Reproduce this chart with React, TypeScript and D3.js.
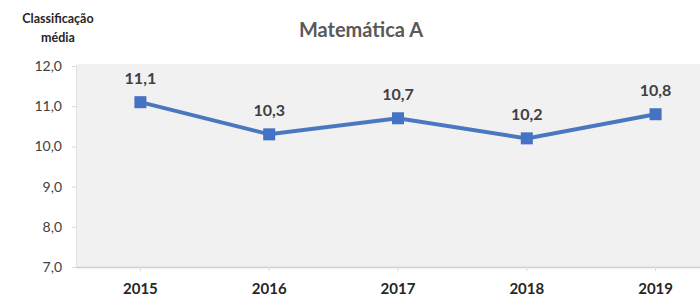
import React, { useEffect, useRef } from 'react';
import * as d3 from 'd3';

// chart data
const years = ['2015', '2016', '2017', '2018', '2019'];
const averages = [11.1, 10.3, 10.7, 10.2, 10.8];
const yTicks = [7, 8, 9, 10, 11, 12];

const W = 700, H = 300;
const FONT = 'Lato, "Open Sans", sans-serif';

const App = () => {
  const ref = useRef<SVGSVGElement>(null);

  useEffect(() => {
    const svg = d3.select(ref.current);
    svg.selectAll('*').remove();

    // plot area runs past the right edge (picture is cropped there)
    const x = d3.scaleBand().domain(years).range([76, 720]);
    const y = d3.scaleLinear().domain([7, 12]).range([267, 66]);
    const cx = (d: string) => (x(d) as number) + x.bandwidth() / 2;

    // grey plot background
    svg.append('rect')
      .attr('x', 76).attr('y', 64)
      .attr('width', 644).attr('height', 203)
      .attr('fill', '#f1f1f1');

    // left axis
    const yAxis = svg.append('g')
      .attr('transform', 'translate(76,0)')
      .call(d3.axisLeft(y).tickValues(yTicks).tickSize(4).tickPadding(10)
        .tickFormat(d => d3.format('.1f')(d as number).replace('.', ',')));
    yAxis.select('.domain').attr('stroke', '#e0e0e0');
    yAxis.selectAll('.tick line').attr('stroke', '#d9d9d9');
    yAxis.selectAll('text')
      .attr('font-family', FONT).attr('font-size', 14).attr('fill', '#404040');

    // bottom axis
    const xAxis = svg.append('g')
      .attr('transform', 'translate(0,267)')
      .call(d3.axisBottom(x).tickSize(4).tickSizeOuter(0).tickPadding(12));
    xAxis.select('.domain').attr('stroke', '#d0d0d0').attr('stroke-width', 1.5);
    xAxis.selectAll('.tick line').attr('stroke', '#d9d9d9');
    xAxis.selectAll('text')
      .attr('font-family', FONT).attr('font-size', 15).attr('font-weight', 'bold')
      .attr('fill', '#262626');

    const data = years.map((yr, i) => ({ yr, v: averages[i] }));

    const line = d3.line<{ yr: string; v: number }>()
      .x(d => cx(d.yr))
      .y(d => y(d.v));

    svg.append('path')
      .datum(data)
      .attr('d', line)
      .attr('fill', 'none')
      .attr('stroke', '#4a78c0')
      .attr('stroke-width', 4);

    svg.selectAll('.marker')
      .data(data)
      .enter().append('rect')
      .attr('class', 'marker')
      .attr('x', d => cx(d.yr) - 6)
      .attr('y', d => y(d.v) - 6)
      .attr('width', 12).attr('height', 12)
      .attr('fill', '#4472c4');

    svg.selectAll('.lbl')
      .data(data)
      .enter().append('text')
      .attr('class', 'lbl')
      .attr('x', d => cx(d.yr))
      .attr('y', d => y(d.v) - 18)
      .attr('text-anchor', 'middle')
      .attr('font-family', FONT).attr('font-size', 16).attr('font-weight', 'bold')
      .attr('fill', '#404040')
      .text(d => d3.format('.1f')(d.v).replace('.', ','));

    // titles
    svg.append('text')
      .attr('x', 361).attr('y', 37)
      .attr('text-anchor', 'middle')
      .attr('font-family', FONT).attr('font-size', 20).attr('font-weight', 'bold')
      .attr('fill', '#595959')
      .text('Matemática A');

    const yTitle = svg.append('text')
      .attr('text-anchor', 'middle')
      .attr('font-family', FONT).attr('font-size', 12.5).attr('font-weight', 'bold')
      .attr('fill', '#262626');
    yTitle.append('tspan').attr('x', 58).attr('y', 23).text('Classificação');
    yTitle.append('tspan').attr('x', 58).attr('y', 42).text('média');
  }, []);

  return (
    <svg ref={ref} width={W} height={H}
      style={{ position: 'absolute', left: 0, top: 0, background: '#fff' }} />
  );
};

export default App;
